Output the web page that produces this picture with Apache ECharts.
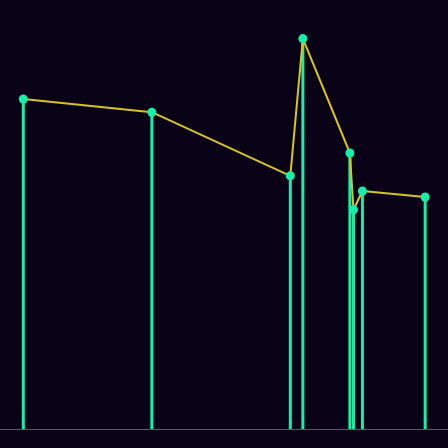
<!DOCTYPE html>
<html>
<head>
<meta charset="utf-8">
<script src="https://cdn.jsdelivr.net/npm/echarts@6/dist/echarts.min.js"></script>
<style>
html,body{margin:0;padding:0;background:#0a0318;}
#chart{width:448px;height:448px;}
</style>
</head>
<body>
<div id="chart"></div>
<script>
// x positions (arbitrary units 0..100) and y values (0..100)
const xValues = [5.2, 33.9, 64.8, 67.6, 78.1, 78.9, 80.9, 94.9];
const yValues = [82.5, 79.2, 63.3, 97.6, 69.0, 54.8, 59.5, 58.0];

const points = xValues.map((x, i) => [x, yValues[i]]);

const chart = echarts.init(document.getElementById('chart'));
chart.setOption({
  backgroundColor: '#0a0318',
  animation: false,
  grid: { left: 0, right: 0, top: 29, bottom: 19 },
  xAxis: {
    type: 'value', min: 0, max: 100,
    axisLine: { show: true, lineStyle: { color: '#2e6e68', width: 1 } },
    axisTick: { show: false }, axisLabel: { show: false }, splitLine: { show: false }
  },
  yAxis: {
    type: 'value', min: 0, max: 100,
    axisLine: { show: false }, axisTick: { show: false },
    axisLabel: { show: false }, splitLine: { show: false }
  },
  series: [
    {
      type: 'bar',
      data: points,
      barWidth: 3,
      itemStyle: { color: '#14f0a8' },
      z: 2
    },
    {
      type: 'line',
      data: points,
      symbol: 'circle',
      symbolSize: 9,
      lineStyle: { color: '#d8c41c', width: 2 },
      itemStyle: { color: '#14f0a8' },
      z: 3
    }
  ]
});
</script>
</body>
</html>
